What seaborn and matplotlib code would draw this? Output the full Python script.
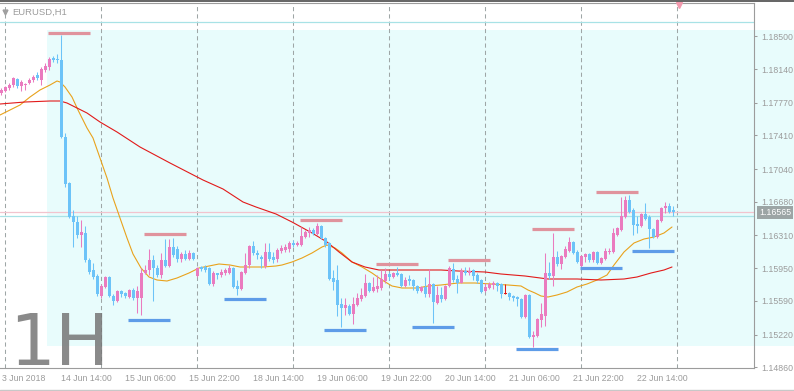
import numpy as np
import pandas as pd
import seaborn as sns
import matplotlib.pyplot as plt
from matplotlib.patches import Rectangle
from matplotlib.lines import Line2D

# ---- data ----
symbol = "EURUSD,H1"
period_tag = "1H"
first_bar = "2018-06-13 23:00"
first_label = "3 Jun 2018"   # what is left visible of the leftmost date label

opens = [1.17877, 1.17899, 1.17932, 1.17965, 1.18031, 1.17954, 1.17965, 1.17987, 1.18020, 1.18075,
         1.18020, 1.18130, 1.18163, 1.18262, 1.18251, 1.18240, 1.17393, 1.16887, 1.16524, 1.16458,
         1.16315, 1.16337, 1.16040, 1.15930, 1.15864, 1.15644, 1.15743, 1.15853, 1.15644, 1.15589,
         1.15699, 1.15677, 1.15633, 1.15710, 1.15622, 1.15622, 1.15897, 1.15930, 1.16040, 1.15952,
         1.15875, 1.16040, 1.15974, 1.16183, 1.16161, 1.16051, 1.16106, 1.16051, 1.16117, 1.15864,
         1.15963, 1.15963, 1.15952, 1.15776, 1.15897, 1.15875, 1.15897, 1.15897, 1.15952, 1.15754,
         1.15721, 1.15897, 1.15985, 1.16194, 1.16117, 1.16073, 1.15974, 1.16128, 1.16073, 1.16051,
         1.16139, 1.16150, 1.16161, 1.16227, 1.16205, 1.16205, 1.16293, 1.16337, 1.16370, 1.16326,
         1.16414, 1.16282, 1.16227, 1.15842, 1.15820, 1.15556, 1.15512, 1.15534, 1.15446, 1.15545,
         1.15611, 1.15644, 1.15787, 1.15699, 1.15721, 1.15732, 1.15809, 1.15886, 1.15853, 1.15897,
         1.15886, 1.15754, 1.15831, 1.15820, 1.15754, 1.15699, 1.15743, 1.15666, 1.15776, 1.15567,
         1.15655, 1.15611, 1.15754, 1.15941, 1.15831, 1.15787, 1.15919, 1.15897, 1.15930, 1.15875,
         1.15820, 1.15699, 1.15732, 1.15765, 1.15787, 1.15776, 1.15666, 1.15677, 1.15644, 1.15633,
         1.15611, 1.15413, 1.15655, 1.15193, 1.15204, 1.15380, 1.15424, 1.15897, 1.15864, 1.16073,
         1.15996, 1.16073, 1.16139, 1.16238, 1.16128, 1.15974, 1.16073, 1.16106, 1.16040, 1.16128,
         1.16007, 1.16051, 1.16128, 1.16128, 1.16315, 1.16370, 1.16513, 1.16700, 1.16590, 1.16436,
         1.16414, 1.16546, 1.16513, 1.16381, 1.16293, 1.16469, 1.16612, 1.16634, 1.16590]
highs = [1.17932, 1.17954, 1.17987, 1.18053, 1.18042, 1.18020, 1.17987, 1.18042, 1.18075, 1.18108,
         1.18163, 1.18207, 1.18273, 1.18284, 1.18306, 1.18515, 1.17437, 1.16898, 1.16590, 1.16524,
         1.16480, 1.16414, 1.16062, 1.16007, 1.15886, 1.15776, 1.15864, 1.15864, 1.15666, 1.15710,
         1.15710, 1.15688, 1.15721, 1.15732, 1.15754, 1.15952, 1.15985, 1.16161, 1.16095, 1.15985,
         1.16117, 1.16271, 1.16271, 1.16282, 1.16194, 1.16128, 1.16150, 1.16150, 1.16128, 1.15963,
         1.15974, 1.15985, 1.15963, 1.15919, 1.15897, 1.15941, 1.15952, 1.15985, 1.15963, 1.15820,
         1.15919, 1.16117, 1.16205, 1.16249, 1.16150, 1.16095, 1.16227, 1.16227, 1.16128, 1.16172,
         1.16205, 1.16216, 1.16249, 1.16260, 1.16249, 1.16403, 1.16370, 1.16403, 1.16392, 1.16447,
         1.16425, 1.16293, 1.16238, 1.15930, 1.15985, 1.15622, 1.15622, 1.15556, 1.15633, 1.15677,
         1.15732, 1.15886, 1.15798, 1.15853, 1.15875, 1.15930, 1.15952, 1.15908, 1.15908, 1.15963,
         1.15897, 1.15853, 1.15875, 1.15831, 1.15765, 1.15754, 1.15853, 1.15941, 1.15787, 1.15754,
         1.15743, 1.15765, 1.15974, 1.16007, 1.15875, 1.15952, 1.15963, 1.15963, 1.15941, 1.15897,
         1.15831, 1.15787, 1.15798, 1.15809, 1.15798, 1.15787, 1.15776, 1.15688, 1.15655, 1.15644,
         1.15622, 1.15666, 1.15666, 1.15259, 1.15402, 1.15567, 1.16117, 1.16018, 1.16337, 1.16139,
         1.16095, 1.16194, 1.16293, 1.16249, 1.16150, 1.16095, 1.16117, 1.16117, 1.16139, 1.16139,
         1.16073, 1.16172, 1.16172, 1.16392, 1.16403, 1.16733, 1.16744, 1.16755, 1.16612, 1.16524,
         1.16557, 1.16667, 1.16535, 1.16392, 1.16491, 1.16623, 1.16678, 1.16667, 1.16634]
lows = [1.17855, 1.17888, 1.17910, 1.17943, 1.17932, 1.17899, 1.17910, 1.17976, 1.17998, 1.18020,
        1.17965, 1.18108, 1.18130, 1.18218, 1.18207, 1.17382, 1.16843, 1.16502, 1.16183, 1.16282,
        1.16183, 1.16018, 1.15886, 1.15831, 1.15644, 1.15622, 1.15732, 1.15633, 1.15545, 1.15578,
        1.15633, 1.15622, 1.15622, 1.15600, 1.15457, 1.15435, 1.15886, 1.15875, 1.15589, 1.15853,
        1.15842, 1.15963, 1.15963, 1.16073, 1.16018, 1.16018, 1.16040, 1.16040, 1.16040, 1.15853,
        1.15919, 1.15908, 1.15765, 1.15754, 1.15831, 1.15853, 1.15875, 1.15886, 1.15732, 1.15655,
        1.15710, 1.15886, 1.15952, 1.16095, 1.16051, 1.15952, 1.15952, 1.16029, 1.16007, 1.16018,
        1.16117, 1.16128, 1.16128, 1.16183, 1.16194, 1.16194, 1.16282, 1.16293, 1.16315, 1.16315,
        1.16271, 1.16183, 1.15820, 1.15710, 1.15424, 1.15303, 1.15435, 1.15435, 1.15336, 1.15534,
        1.15589, 1.15633, 1.15688, 1.15688, 1.15688, 1.15710, 1.15787, 1.15820, 1.15842, 1.15864,
        1.15743, 1.15743, 1.15765, 1.15710, 1.15677, 1.15688, 1.15633, 1.15633, 1.15347, 1.15556,
        1.15578, 1.15600, 1.15743, 1.15798, 1.15677, 1.15787, 1.15875, 1.15875, 1.15820, 1.15787,
        1.15677, 1.15688, 1.15721, 1.15721, 1.15699, 1.15622, 1.15666, 1.15600, 1.15589, 1.15534,
        1.15402, 1.15402, 1.15182, 1.15083, 1.15193, 1.15303, 1.15314, 1.15831, 1.15754, 1.15974,
        1.15941, 1.16062, 1.16128, 1.16106, 1.16007, 1.15963, 1.16018, 1.16018, 1.16018, 1.15996,
        1.15996, 1.16040, 1.16106, 1.16117, 1.16304, 1.16359, 1.16502, 1.16557, 1.16315, 1.16337,
        1.16403, 1.16480, 1.16172, 1.16282, 1.16282, 1.16458, 1.16557, 1.16557, 1.16524]
closes = [1.17910, 1.17943, 1.17965, 1.18042, 1.17954, 1.17998, 1.17976, 1.18020, 1.18053, 1.18042,
          1.18141, 1.18174, 1.18251, 1.18240, 1.18240, 1.17393, 1.16876, 1.16513, 1.16458, 1.16315,
          1.16348, 1.16040, 1.15908, 1.15853, 1.15666, 1.15754, 1.15853, 1.15644, 1.15589, 1.15699,
          1.15666, 1.15644, 1.15710, 1.15622, 1.15699, 1.15897, 1.15930, 1.16040, 1.15952, 1.15875,
          1.16040, 1.15974, 1.16183, 1.16095, 1.16051, 1.16106, 1.16051, 1.16117, 1.16051, 1.15952,
          1.15941, 1.15930, 1.15776, 1.15897, 1.15875, 1.15908, 1.15930, 1.15952, 1.15743, 1.15721,
          1.15908, 1.15985, 1.16194, 1.16117, 1.16095, 1.16051, 1.16128, 1.16051, 1.16040, 1.16150,
          1.16172, 1.16183, 1.16227, 1.16205, 1.16227, 1.16304, 1.16348, 1.16370, 1.16326, 1.16414,
          1.16282, 1.16205, 1.15831, 1.15798, 1.15545, 1.15512, 1.15545, 1.15446, 1.15556, 1.15622,
          1.15655, 1.15787, 1.15699, 1.15743, 1.15754, 1.15831, 1.15886, 1.15853, 1.15897, 1.15875,
          1.15754, 1.15820, 1.15809, 1.15754, 1.15699, 1.15743, 1.15666, 1.15776, 1.15578, 1.15655,
          1.15611, 1.15754, 1.15952, 1.15820, 1.15787, 1.15919, 1.15897, 1.15919, 1.15864, 1.15809,
          1.15688, 1.15743, 1.15776, 1.15787, 1.15754, 1.15666, 1.15666, 1.15633, 1.15622, 1.15611,
          1.15413, 1.15655, 1.15193, 1.15215, 1.15391, 1.15446, 1.15897, 1.15864, 1.16073, 1.15996,
          1.16084, 1.16161, 1.16238, 1.16117, 1.16018, 1.16084, 1.16106, 1.16040, 1.16128, 1.16007,
          1.16062, 1.16139, 1.16139, 1.16337, 1.16392, 1.16524, 1.16700, 1.16568, 1.16425, 1.16414,
          1.16546, 1.16491, 1.16381, 1.16293, 1.16480, 1.16612, 1.16634, 1.16568, 1.16568]

# moving averages, sampled along the drawn lines (bar index, price)
fast_idx = [-0.25, 4.75, 7.25, 9.75, 12.25, 14, 14.75, 16, 17.75, 19.25, 21.5, 23, 24.75, 26.5, 28,
            29.75, 31.5, 33, 35, 37, 39, 41.5, 44, 47, 49.5, 52, 54.5, 57.25, 59.75, 63, 65.5, 68.75,
            70.25, 72.75, 75.25, 77.75, 80.25, 81.5, 83.5, 85.25, 87.75, 90.25, 92.75, 95.25, 97.75,
            100.25, 104.25, 106.75, 110, 114.25, 118.5, 122.5, 126.75, 130, 131.75, 133.5, 135,
            136.75, 139, 141.5, 144, 146.5, 149, 151.5, 153.25, 155.75, 158.25, 160.75, 163.25,
            165.75, 167.75]
fast_ma = [1.17635, 1.17745, 1.17833, 1.17910, 1.17965, 1.18009, 1.17998, 1.17943, 1.17833, 1.17690,
           1.17492, 1.17382, 1.17162, 1.16942, 1.16722, 1.16502, 1.16282, 1.16106, 1.15952, 1.15853,
           1.15820, 1.15809, 1.15842, 1.15897, 1.15952, 1.15974, 1.15996, 1.15985, 1.15963, 1.15963,
           1.15963, 1.15974, 1.15985, 1.16018, 1.16062, 1.16117, 1.16183, 1.16205, 1.16172, 1.16117,
           1.16018, 1.15963, 1.15897, 1.15820, 1.15754, 1.15732, 1.15732, 1.15754, 1.15765, 1.15787,
           1.15787, 1.15776, 1.15765, 1.15754, 1.15710, 1.15677, 1.15644, 1.15633, 1.15655, 1.15688,
           1.15743, 1.15776, 1.15820, 1.15875, 1.15985, 1.16128, 1.16227, 1.16271, 1.16293, 1.16337,
           1.16403]
slow_idx = [-0.25, 6, 12.25, 14.75, 16.5, 19, 21.5, 24.75, 29, 34.75, 42.25, 50.5, 55.5, 60.5, 63.75,
            68.75, 72.75, 77.75, 81.5, 84.5, 87.75, 91, 94.5, 102.75, 110, 114.25, 121, 125, 131,
            136.75, 144, 150, 155.75, 159, 162.5, 165.75, 167.75]
slow_ma = [1.17756, 1.17778, 1.17789, 1.17789, 1.17767, 1.17712, 1.17657, 1.17558, 1.17448, 1.17283,
           1.17107, 1.16920, 1.16821, 1.16678, 1.16623, 1.16546, 1.16458, 1.16337, 1.16238, 1.16128,
           1.16018, 1.15963, 1.15930, 1.15930, 1.15930, 1.15919, 1.15908, 1.15886, 1.15864, 1.15831,
           1.15831, 1.15820, 1.15831, 1.15853, 1.15897, 1.15930, 1.15963]

# swing high / low markers (first bar, price level)
res_start = [12, 36, 75, 94, 112, 133, 149]
res_level = [1.18537, 1.16326, 1.16480, 1.15996, 1.16040, 1.16381, 1.16788]
sup_start = [32, 56, 81, 103, 129, 145, 158]
sup_level = [1.15380, 1.15611, 1.15270, 1.15303, 1.15061, 1.15952, 1.16139]

zone_top, zone_bottom, zone_first_bar = 1.18570, 1.15094, 11.5
top_line = 1.18658
cyan_line = 1.16524
bid = 1.16565

ytick_vals = [1.18500, 1.18140, 1.17770, 1.17410, 1.17040, 1.16680,
              1.16310, 1.15950, 1.15590, 1.15220, 1.14860]

# ---- build frame ----
times = pd.date_range(first_bar, periods=24 * 12, freq="h")
times = times[times.dayofweek < 5][:len(opens)]
df = pd.DataFrame({"time": times, "open": opens, "high": highs, "low": lows, "close": closes})
df["i"] = np.arange(len(df))
n = len(df)

PINK = "#EA7BBF"
BLUE = "#6CC3F8"
df["color"] = np.where(df.close > df.open, PINK, BLUE)
df.loc[df.close == df.open, "color"] = "#E01818"

sns.set_style("white")
plt.rcParams["font.family"] = ["Liberation Sans", "DejaVu Sans"]

fig = plt.figure(figsize=(7.94, 3.91), dpi=100)
ax = fig.add_axes([0, 23 / 391, 754 / 794, 365 / 391])
ax.set_xlim(-0.25, 188.25)
ax.set_ylim(1.14852, 1.18867)

# shaded zone (runs under the price scale too)
ax.add_patch(Rectangle((zone_first_bar, zone_bottom), 200, zone_top - zone_bottom,
                       fc="#E8FCFC", ec="none", zorder=0, clip_on=False))

# day separators
seps = list(df.i[df.time.dt.hour == 0]) + [n]
for s in seps:
    ax.axvline(s, color="#9EA6A6", lw=0.75, ls=(0, (4, 3)), zorder=1)

# horizontal lines
ax.axhline(top_line, color="#A8E2E6", lw=0.9, zorder=1)
ax.axhline(bid, color="#F2C4CE", lw=0.9, zorder=1)
ax.axhline(cyan_line, color="#A8E2E6", lw=0.9, zorder=1)

# moving averages
sns.lineplot(x=fast_idx, y=fast_ma, color="#E8A21C", lw=0.8, ax=ax, sort=False, estimator=None, zorder=2)
sns.lineplot(x=slow_idx, y=slow_ma, color="#E21A1A", lw=0.8, ax=ax, sort=False, estimator=None, zorder=2)

# candles
ax.vlines(df.i, df.low, df.high, colors=df.color, lw=0.75, zorder=3)
body_lo = np.minimum(df.open, df.close)
body_h = np.maximum((df.close - df.open).abs(), 0.00011)
ax.bar(df.i, body_h, bottom=body_lo, width=0.75, color=df.color, lw=0, zorder=4)

# swing markers
ax.hlines(res_level, np.array(res_start) - 0.25, np.array(res_start) + 10.25,
          colors="#E0939D", lw=2.3, zorder=5)
ax.hlines(sup_level, np.array(sup_start) - 0.25, np.array(sup_start) + 10.25,
          colors="#5E9CE8", lw=2.3, zorder=5)

# shift marker at the top
ax.plot([n + 0.5], [1.18845], marker="v", ms=4, color="#F29AAE", clip_on=False, zorder=6)

# axes styling
GRAY = "#9C9C9C"
ax.spines["left"].set_visible(False)
for side in ["top", "right", "bottom"]:
    ax.spines[side].set_color(GRAY)
    ax.spines[side].set_linewidth(0.8)
ax.yaxis.tick_right()
ax.set_yticks(ytick_vals)
ax.set_yticklabels([f"{v:.5f}" for v in ytick_vals])
ax.tick_params(axis="y", direction="out", length=2.5, width=0.75, color=GRAY,
               labelcolor=GRAY, labelsize=6.3, pad=2.5)

xt = list(range(15, n, 16))
ax.set_xticks(xt)
ax.set_xticklabels([f"{t.day} Jun {t:%H:%M}" for t in df.time.iloc[xt]])
ax.tick_params(axis="x", direction="out", length=2.5, width=0.75, color=GRAY,
               labelcolor=GRAY, labelsize=6.3, pad=2)
for lbl in ax.get_xticklabels():
    lbl.set_ha("left")
ax.annotate(first_label, xy=(0, 0), xycoords="axes fraction", xytext=(1.5, -4.5),
            textcoords="offset points", ha="left", va="top", fontsize=6.3, color=GRAY,
            annotation_clip=False)
ax.set_xlabel("")
ax.set_ylabel("")
ax.grid(False)

# current price tag
ax.text(1.0068, bid, f"{bid:.5f}", transform=ax.get_yaxis_transform(), ha="left", va="center",
        fontsize=6.3, color="white", clip_on=False, zorder=7,
        bbox=dict(boxstyle="square,pad=0.2", fc="#9CA5A5", ec="none"))

# header and period tag
fig.text(12 / 794, 1 - 12 / 391, symbol, ha="left", va="center", fontsize=6.8, color=GRAY)
fig.add_artist(Line2D([4.5 / 794], [1 - 12 / 391], marker="v", ms=3.5, color="#A0A0A0",
                      transform=fig.transFigure))
fig.text(9 / 794, 26 / 391, period_tag, ha="left", va="baseline", fontsize=52,
         family="DejaVu Sans", color="#767676", alpha=0.85, zorder=5)

# window frame lines
fig.add_artist(Line2D([0, 1], [1 - 0.8 / 391] * 2, color="#4A4A4A", lw=1.2, transform=fig.transFigure))
fig.add_artist(Line2D([0, 1], [1.5 / 391] * 2, color="#C8C8C8", lw=1, transform=fig.transFigure))

fig.savefig("out.png", dpi=100)
